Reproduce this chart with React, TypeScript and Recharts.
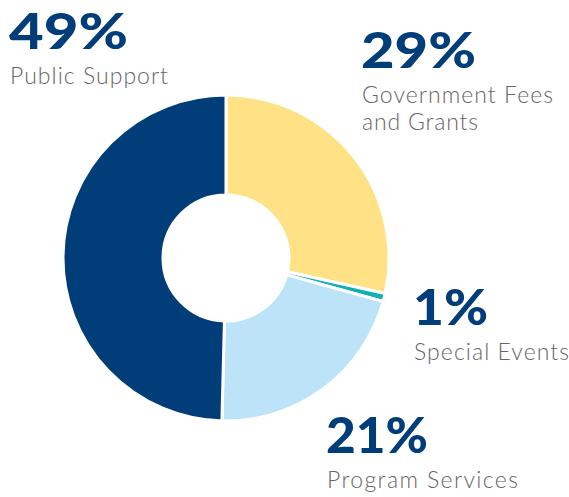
import { PieChart, Pie, Cell } from "recharts";

// slices clockwise from 12 o'clock
const categories = [
  "Government Fees and Grants",
  "Special Events",
  "Program Services",
  "Public Support",
];
const shares = [28.5, 0.8, 21.1, 49.6];
const pctLabels = ["29%", "1%", "21%", "49%"];
const nameLines = [
  ["Government Fees", "and Grants"],
  ["Special Events"],
  ["Program Services"],
  ["Public Support"],
];
const colors = ["#FFE285", "#14AEB6", "#BDE3F8", "#003D79"];

// where each caption sits (x, baseline of the big number, text widths)
const captionPos = [
  { x: 361, y: 68, w: 115, lw: [191, 116] },
  { x: 413, y: 325, w: 75, lw: [155] },
  { x: 326, y: 453, w: 102, lw: [191] },
  { x: 9, y: 49, w: 119, lw: [158] },
];

const data = categories.map((name, i) => ({ name, value: shares[i] }));

export default function App() {
  return (
    <div style={{ position: "absolute", left: 0, top: 0, width: 569, height: 497 }}>
      <PieChart width={569} height={497} margin={{ top: 0, right: 0, bottom: 0, left: 0 }}>
        <Pie
          data={data}
          dataKey="value"
          cx={226}
          cy={258}
          innerRadius={63}
          outerRadius={163}
          startAngle={90}
          endAngle={-270}
          stroke="#fff"
          strokeWidth={3}
          isAnimationActive={false}
        >
          {data.map((d, i) => (
            <Cell key={d.name} fill={colors[i]} />
          ))}
        </Pie>
      </PieChart>
      <svg
        width={569}
        height={497}
        style={{ position: "absolute", left: 0, top: 0, pointerEvents: "none" }}
      >
        {captionPos.map((p, i) => (
          <g key={categories[i]}>
            <text
              x={p.x}
              y={p.y}
              fill="#003D79"
              fontFamily="Lato"
              fontWeight={900}
              fontSize={50}
              textLength={p.w}
              lengthAdjust="spacingAndGlyphs"
            >
              {pctLabels[i]}
            </text>
            {nameLines[i].map((line, j) => (
              <text
                key={line}
                x={p.x + 1}
                y={p.y + 35 + j * 27}
                fill="#666666"
                fontFamily="Lato"
                fontWeight={300}
                fontSize={23}
                textLength={p.lw[j]}
                lengthAdjust="spacing"
              >
                {line}
              </text>
            ))}
          </g>
        ))}
      </svg>
    </div>
  );
}
